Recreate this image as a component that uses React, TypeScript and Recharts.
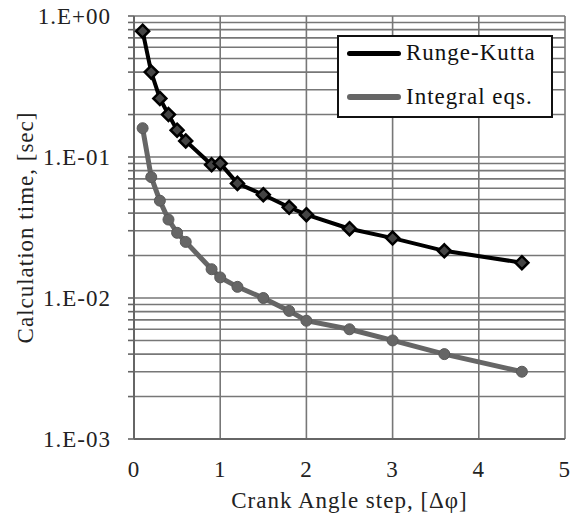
import { LineChart, Line, XAxis, YAxis, CartesianGrid, Legend } from 'recharts'

const steps = [0.1, 0.2, 0.3, 0.4, 0.5, 0.6, 0.9, 1.0, 1.2, 1.5, 1.8, 2.0, 2.5, 3.0, 3.6, 4.5]
const rungeKutta = [0.78, 0.4, 0.26, 0.2, 0.155, 0.13, 0.088, 0.09, 0.065, 0.054, 0.044, 0.039, 0.031, 0.0266, 0.0216, 0.0178]
const integralEqs = [0.16, 0.072, 0.049, 0.036, 0.029, 0.025, 0.016, 0.014, 0.012, 0.01, 0.0081, 0.0069, 0.006, 0.005, 0.004, 0.003]

const xTicks = [0, 1, 2, 3, 4, 5]
const xMinorTicks = [0.2, 0.4, 0.6, 0.8, 1.2, 1.4, 1.6, 1.8, 2.2, 2.4, 2.6, 2.8, 3.2, 3.4, 3.6, 3.8, 4.2, 4.4, 4.6, 4.8]
const decades = [0.001, 0.01, 0.1, 1]
const decadeLabels = ['1.E-03', '1.E-02', '1.E-01', '1.E+00']
const multipliers = [1, 2, 3, 4, 5, 6, 7, 8, 9]
const legendOrder = ['rk', 'ie']

// every 1..9 step inside each decade, plus the top 1.0
const yTicks = [
    ...decades.slice(0, 3).flatMap(d => multipliers.map(m => +(d * m).toPrecision(3))),
    1
]

const rows = steps.map((s, i) => ({ step: s, rk: rungeKutta[i], ie: integralEqs[i] }))

const FONT = '"Liberation Serif", "Times New Roman", serif'
const TEXT = { fill: '#222', fontSize: 23, fontFamily: FONT, letterSpacing: 1 }

const Diamond = (props: any) => {
    const { cx, cy } = props
    if (cx == null || cy == null) return null
    const r = 6.5
    return (
        <path
            d={`M${cx},${cy - r} L${cx + r},${cy} L${cx},${cy + r} L${cx - r},${cy} Z`}
            fill="#444"
            stroke="#000"
            strokeWidth={2.5}
        />
    )
}

const Dot = (props: any) => {
    const { cx, cy } = props
    if (cx == null || cy == null) return null
    return <circle cx={cx} cy={cy} r={5.5} fill="#666" stroke="#5a5a5a" strokeWidth={1} />
}

const renderLegend = (props: any) => {
    const payload = [...(props.payload || [])].sort(
        (a: any, b: any) => legendOrder.indexOf(a.dataKey) - legendOrder.indexOf(b.dataKey)
    )
    return (
        <div
            style={{
                position: 'relative',
                border: '2px solid #111',
                background: '#fff',
                width: 216,
                height: 83,
                boxSizing: 'border-box',
                fontFamily: FONT,
                fontSize: 23,
                letterSpacing: 1,
                color: '#111'
            }}
        >
            {payload.map((p: any, i: number) => (
                <div
                    key={p.value}
                    style={{ position: 'absolute', left: 8, top: i === 0 ? -2 : 42, display: 'flex', alignItems: 'center', height: 36, whiteSpace: 'nowrap' }}
                >
                    <div style={{ width: 54, height: p.dataKey === 'rk' ? 5 : 6, background: p.color, borderRadius: 3, marginRight: 5 }} />
                    <span>{p.value}</span>
                </div>
            ))}
        </div>
    )
}

export default function App() {
    return (
        <div style={{ position: 'absolute', left: 0, top: 0, width: 571, height: 513, background: '#fff' }}>
            <LineChart
                width={571}
                height={513}
                data={rows}
                margin={{ top: 16, right: 6, bottom: 0, left: 40 }}
            >
                <CartesianGrid stroke="#777" strokeWidth={1.6} horizontalValues={yTicks} verticalValues={xTicks} />
                <XAxis
                    type="number"
                    dataKey="step"
                    domain={[0, 5]}
                    ticks={xTicks}
                    height={74}
                    axisLine={{ stroke: '#666', strokeWidth: 2 }}
                    tickLine={false}
                    tick={{ ...TEXT, dy: 14 }}
                    label={{ value: 'Crank Angle step, [Δφ]', position: 'insideBottom', offset: 5, ...TEXT }}
                />
                <XAxis
                    xAxisId="top"
                    orientation="top"
                    type="number"
                    dataKey="step"
                    domain={[0, 5]}
                    ticks={xMinorTicks}
                    height={0}
                    mirror
                    axisLine={{ stroke: '#666', strokeWidth: 2 }}
                    tickLine={{ stroke: '#666', strokeWidth: 1.6 }}
                    tickSize={6}
                    tickFormatter={() => ''}
                />
                <YAxis
                    scale="log"
                    domain={[0.001, 1]}
                    allowDataOverflow
                    ticks={yTicks}
                    width={94}
                    interval={0}
                    axisLine={{ stroke: '#666', strokeWidth: 2 }}
                    tickLine={{ stroke: '#666', strokeWidth: 1.6 }}
                    tickSize={6}
                    tickMargin={17}
                    tickFormatter={(v: number) => {
                        const i = decades.findIndex(d => Math.abs(d - v) < d * 1e-6)
                        return i >= 0 ? decadeLabels[i] : ''
                    }}
                    tick={TEXT}
                    label={{ value: 'Calculation time, [sec]', angle: -90, position: 'insideLeft', offset: -15, ...TEXT, style: { textAnchor: 'middle' } }}
                />
                <Legend
                    verticalAlign="middle"
                    align="center"
                    layout="horizontal"
                    content={renderLegend}
                    wrapperStyle={{ top: 35, left: 337, width: 216 }}
                />
                <Line
                    name="Runge-Kutta"
                    dataKey="rk"
                    stroke="#000"
                    strokeWidth={4}
                    dot={<Diamond />}
                    isAnimationActive={false}
                />
                <Line
                    name="Integral eqs."
                    dataKey="ie"
                    stroke="#666"
                    strokeWidth={5}
                    dot={<Dot />}
                    isAnimationActive={false}
                />
            </LineChart>
        </div>
    )
}
